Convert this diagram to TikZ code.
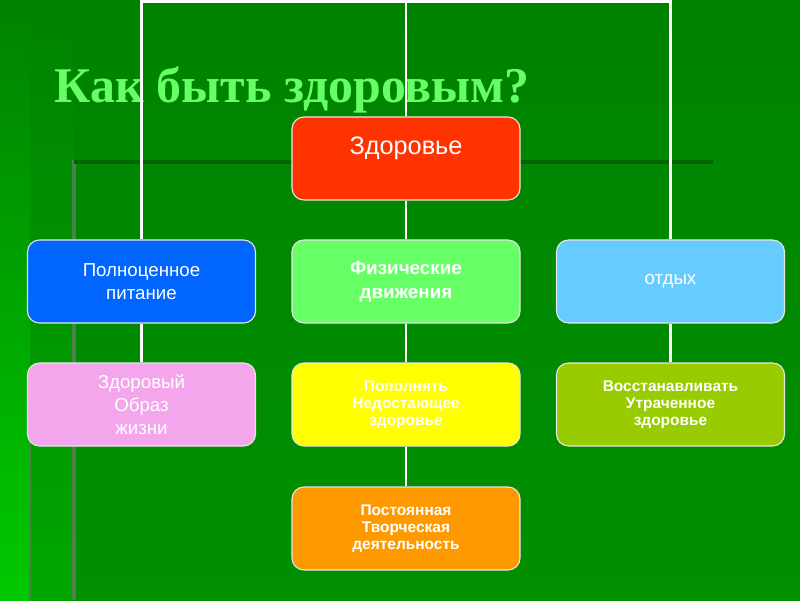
\documentclass[tikz,border=0pt]{standalone}
\usepackage{fontspec}
\setmainfont{Liberation Sans}
\newfontfamily\titlefont{Liberation Serif}
\usetikzlibrary{positioning}
\definecolor{bgtop}{HTML}{008200}
\definecolor{bgbottom}{HTML}{009000}
\definecolor{glowmid}{HTML}{00A600}
\definecolor{glowedge}{HTML}{00C800}
\definecolor{greyline}{HTML}{4C804C}
\definecolor{darkline}{HTML}{006400}
\definecolor{titlegreen}{HTML}{66FF66}
\definecolor{rootred}{HTML}{FF3300}
\definecolor{foodblue}{HTML}{0066FF}
\definecolor{movegreen}{HTML}{66FF66}
\definecolor{restblue}{HTML}{66CCFF}
\definecolor{lifepink}{HTML}{F4A6EC}
\definecolor{fillyellow}{HTML}{FFFF00}
\definecolor{regainlime}{HTML}{99CC00}
\definecolor{workorange}{HTML}{FF9900}

\begin{document}
\begin{tikzpicture}[
  x=0.025cm, y=-0.025cm,
  box/.style={rectangle, rounded corners=0.3cm, draw=white!80!gray,
              line width=0.8pt, minimum width=5.7cm, minimum height=2.075cm,
              align=center, text=white,
              font=\fontsize{13.3}{16.4}\selectfont},
  boldbox/.style={box, font=\fontsize{11}{12.2}\selectfont\bfseries},
  link/.style={draw=white, line width=1.6pt}
]
  \useasboundingbox (0,0) rectangle (800,600);
  % background
  \shade[top color=bgtop, bottom color=bgbottom] (0,0) rectangle (800,600);
  \shade[top color=bgtop, bottom color=glowmid] (0,0) rectangle (74,600);
  \shade[top color=bgtop, bottom color=glowedge] (0,0) rectangle (30,600);
  \draw[greyline, line width=2pt] (30,420) -- (30,600);
  \draw[greyline, line width=2.5pt] (74,160) -- (74,600);
  \draw[darkline, line width=3pt] (74,162) -- (713,162);

  \node[anchor=base west, text=titlegreen,
        font=\titlefont\fontsize{35.5}{40}\selectfont\bfseries] (title)
        at (50,102) {Как быть здоровым?};

  \coordinate (top) at (406,1.5);

  \node[box, fill=rootred, font=\fontsize{18}{18}\selectfont] (root)
        at (406,158.5) {Здоровье\\\mbox{}};
  \node[box, fill=foodblue] (food) at (141.5,281.5) {Полноценное\\питание};
  \node[box, fill=movegreen, font=\fontsize{13.4}{17}\selectfont\bfseries]
        (move) at (406,281.5) {Физические\\движения};
  \node[box, fill=restblue] (rest) at (670.5,281.5) {отдых};
  \node[box, fill=lifepink] (life) at (141.5,404.5) {Здоровый\\Образ\\жизни};
  \node[boldbox, fill=fillyellow] (fill) at (406,404.5)
        {Пополнять\\Недостающее\\здоровье};
  \node[boldbox, fill=regainlime] (regain) at (670.5,404.5)
        {Восстанавливать\\Утраченное\\здоровье};
  \node[boldbox, fill=workorange] (work) at (406,528.5)
        {Постоянная\\Творческая\\деятельность};

  \draw[link] (food.north) |- (top) -| (rest.north);
  \draw[link] (root.north) -- (top);
  \draw[link] (root) -- (move);
  \draw[link] (move) -- (fill);
  \draw[link] (fill) -- (work);
  \draw[link] (food) -- (life);
  \draw[link] (rest) -- (regain);
\end{tikzpicture}
\end{document}
